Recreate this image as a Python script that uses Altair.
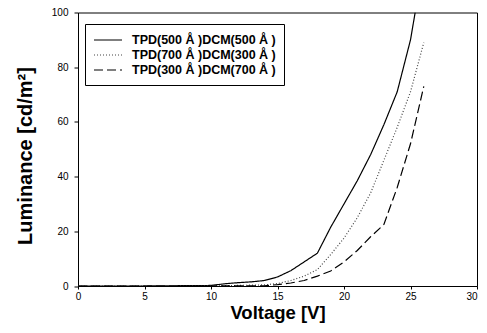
import altair as alt
import pandas as pd

series_names = ["TPD(500 Å )DCM(500 Å )", "TPD(700 Å )DCM(300 Å )", "TPD(300 Å )DCM(700 Å )"]

v_a = [0, 5, 10, 11, 12, 13, 14, 15, 16, 17, 18, 19, 20, 21, 22, 23, 24, 25, 25.35]
l_a = [0, 0, 0.2, 0.8, 1.2, 1.5, 2.0, 3.3, 5.6, 8.8, 12, 21.5, 30, 38.5, 48, 59, 71, 90, 100]

v_b = [0, 5, 10, 12, 14, 15, 16, 17, 18, 19, 20, 21, 22, 23, 24, 25, 26]
l_b = [0, 0, 0, 0.2, 0.4, 0.9, 2.0, 3.6, 6.0, 11.5, 17.5, 25, 34, 46, 58, 71, 89]

v_c = [0, 5, 10, 14, 15, 16, 17, 18, 19, 20, 21, 22, 23, 24, 25, 26]
l_c = [0, 0, 0, 0.1, 0.5, 1.1, 2.0, 3.6, 5.5, 8.8, 13, 18, 22.5, 36, 52, 73]

x_ticks = [0, 5, 10, 15, 20, 25, 30]
y_ticks = [0, 20, 40, 60, 80, 100]

rows = []
for name, vs, ls in zip(series_names, [v_a, v_b, v_c], [l_a, l_b, l_c]):
    for v, l in zip(vs, ls):
        rows.append({"Voltage": v, "Luminance": l, "Device": name})
df = pd.DataFrame(rows)

font = "Liberation Sans"

chart = alt.Chart(df).mark_line(strokeWidth=1.2, clip=True).encode(
    x=alt.X("Voltage:Q", scale=alt.Scale(domain=[0, 30], nice=False),
            axis=alt.Axis(values=x_ticks, title="Voltage [V]",
                          labelAlign={"expr": "datum.value >= 30 ? 'right' : 'center'"},
                          titleX=199.5, titleY=32, titleBaseline="alphabetic", titleAlign="center")),
    y=alt.Y("Luminance:Q", scale=alt.Scale(domain=[0, 100], nice=False),
            axis=alt.Axis(values=y_ticks, title="Luminance [cd/m²]",
                          titleX=-47, titleY=143, titleBaseline="alphabetic", titleAlign="center", titleAngle=270)),
    color=alt.Color("Device:N", scale=alt.Scale(domain=series_names, range=["#000000", "#444444", "#000000"]),
                    legend=alt.Legend(title=None)),
    strokeDash=alt.StrokeDash("Device:N", scale=alt.Scale(domain=series_names, range=[[1, 0], [1, 2], [9, 4]]),
                              legend=alt.Legend(title=None)),
    order=alt.Order("Voltage:Q"),
).properties(
    width=399, height=273.5,
    autosize=alt.AutoSizeParams(type="none"),
    padding={"left": 70, "top": 4.5, "right": 2, "bottom": 39},
).configure_view(
    stroke="#000000", strokeWidth=1
).configure_axis(
    grid=False, domainColor="#000000", tickColor="#000000", tickSize=4, labelFlush=False,
    labelFont=font, labelFontSize=10, labelColor="#000000",
    titleFont=font, titleFontWeight="bold", titleColor="#000000",
).configure_axisX(
    tickSize=3, labelPadding=2, titleFontSize=18.5,
).configure_axisY(
    labelPadding=6, titleFontSize=20,
).configure_legend(
    orient="none", legendX=7, legendY=11.5,
    strokeColor="#000000", fillColor="#ffffff", padding=8,
    labelFont=font, labelFontSize=12.5, labelFontWeight="bold", labelColor="#000000",
    symbolType="M-1,0H3", symbolSize=196, symbolStrokeWidth=1.2, rowPadding=0, labelOffset=23,
)

chart.save("out.html", embed_options={"renderer": "svg", "actions": False})
